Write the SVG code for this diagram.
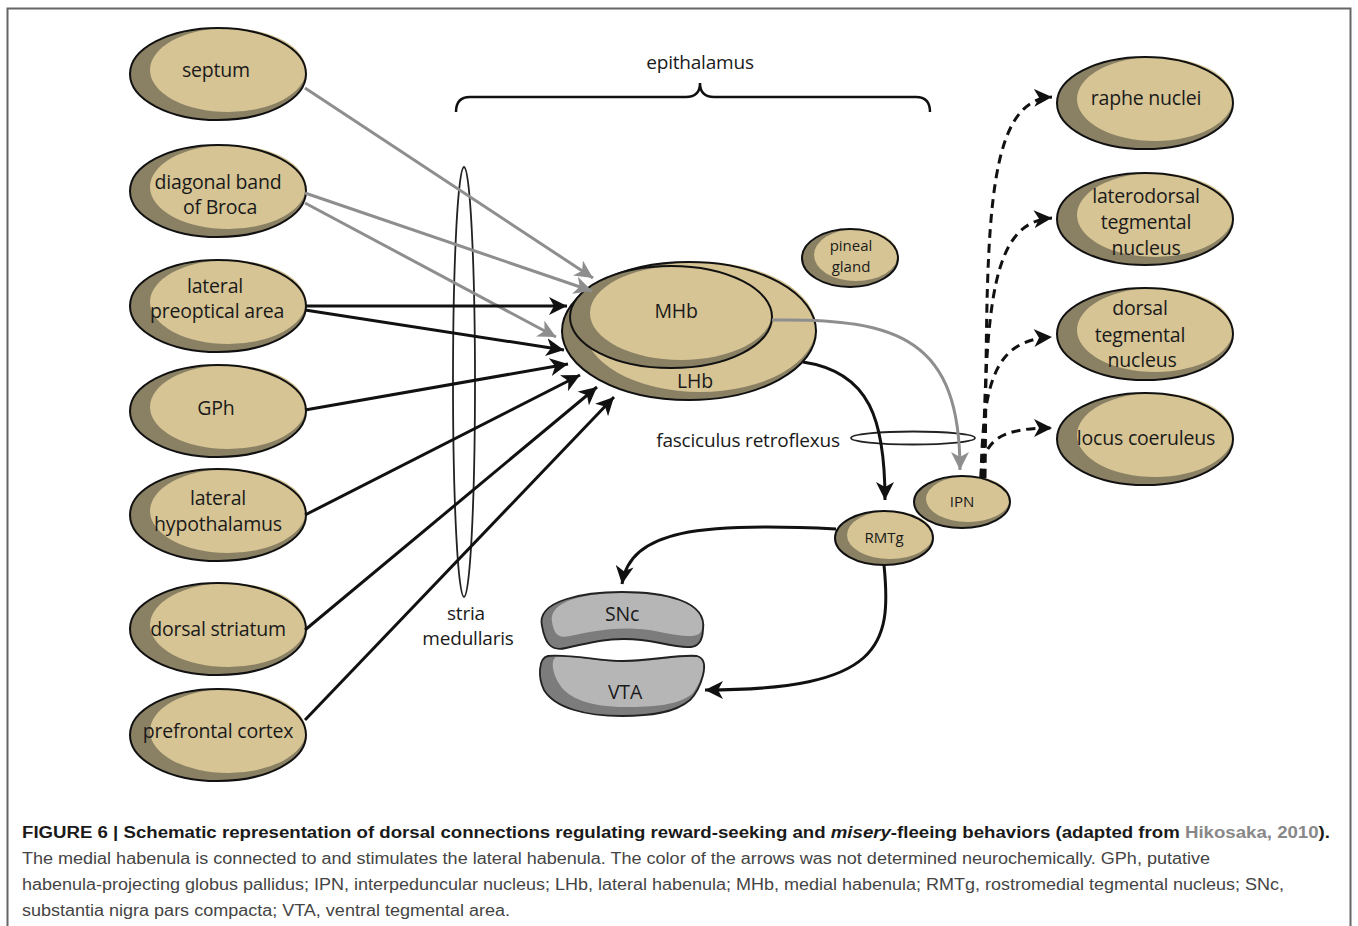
<svg xmlns="http://www.w3.org/2000/svg" width="1358" height="926" viewBox="0 0 1358 926">
<defs>
<style>
.dk{fill:#8a8064}
.lt{fill:#d6c494}
.ol{fill:none;stroke:#111;stroke-width:2}
.gdk{fill:#7c7c7c}
.glt{fill:#b6b6b6}
.lbl{font-family:"Open Sans","Liberation Sans",sans-serif;font-size:19.5px;letter-spacing:-0.2px;fill:#1a1a1a;text-anchor:middle}
.sm{font-size:15px;letter-spacing:0}
.blk{fill:none;stroke:#111;stroke-width:3}
.gry{fill:none;stroke:#8e8e8e;stroke-width:3}
.dsh{fill:none;stroke:#111;stroke-width:3;stroke-dasharray:9 6}
.cap{font-family:"Liberation Sans",Arial,sans-serif;font-size:16px}
</style>
<marker id="ab" markerUnits="userSpaceOnUse" markerWidth="20" markerHeight="18" refX="18" refY="9" orient="auto"><path d="M0,0 L18,9 L0,18 L5,9 Z" fill="#111"/></marker>
<marker id="ag" markerUnits="userSpaceOnUse" markerWidth="20" markerHeight="18" refX="18" refY="9" orient="auto"><path d="M0,0 L18,9 L0,18 L5,9 Z" fill="#8e8e8e"/></marker>
</defs>
<rect x="7.5" y="8.5" width="1343" height="940" fill="none" stroke="#666" stroke-width="2"/>

<g id="stria-medullaris">
<ellipse cx="464" cy="382" rx="11" ry="215" fill="none" stroke="#222" stroke-width="1.8"/>
<text class="lbl" x="466" y="620" style="font-size:19px">stria</text>
<text class="lbl" x="468" y="645" style="font-size:19px">medullaris</text>
</g>

<g id="fasciculus-retroflexus">
<ellipse cx="913" cy="438" rx="62" ry="6.5" fill="none" stroke="#222" stroke-width="1.8"/>
<text class="lbl" x="748" y="447" style="font-size:19px">fasciculus retroflexus</text>
</g>

<g id="epithalamus">
<path d="M456,112 Q456,97 470,97 L686,97 Q700,97 700,83 Q700,97 714,97 L916,97 Q930,97 930,112" fill="none" stroke="#111" stroke-width="2.5"/>
<text class="lbl" x="700" y="69" style="font-size:19px">epithalamus</text>
</g>

<g id="septum">
<ellipse class="dk" cx="218" cy="74" rx="88" ry="46"/>
<ellipse class="lt" cx="228" cy="70" rx="78" ry="42"/>
<ellipse class="ol" cx="218" cy="74" rx="88" ry="46"/>
<text class="lbl" x="216" y="77">septum</text>
</g>
<g id="diagonal-band">
<ellipse class="dk" cx="218" cy="191" rx="88" ry="46"/>
<ellipse class="lt" cx="228" cy="187" rx="78" ry="42"/>
<ellipse class="ol" cx="218" cy="191" rx="88" ry="46"/>
<text class="lbl" x="218" y="189">diagonal band</text>
<text class="lbl" x="220" y="214">of Broca</text>
</g>
<g id="lateral-preoptical-area">
<ellipse class="dk" cx="218" cy="306" rx="88" ry="46"/>
<ellipse class="lt" cx="228" cy="302" rx="78" ry="42"/>
<ellipse class="ol" cx="218" cy="306" rx="88" ry="46"/>
<text class="lbl" x="215" y="293">lateral</text>
<text class="lbl" x="217" y="318">preoptical area</text>
</g>
<g id="GPh">
<ellipse class="dk" cx="218" cy="411" rx="88" ry="46"/>
<ellipse class="lt" cx="228" cy="407" rx="78" ry="42"/>
<ellipse class="ol" cx="218" cy="411" rx="88" ry="46"/>
<text class="lbl" x="216" y="415">GPh</text>
</g>
<g id="lateral-hypothalamus">
<ellipse class="dk" cx="218" cy="515" rx="88" ry="46"/>
<ellipse class="lt" cx="228" cy="511" rx="78" ry="42"/>
<ellipse class="ol" cx="218" cy="515" rx="88" ry="46"/>
<text class="lbl" x="218" y="505">lateral</text>
<text class="lbl" x="218" y="531">hypothalamus</text>
</g>
<g id="dorsal-striatum">
<ellipse class="dk" cx="218" cy="629" rx="88" ry="46"/>
<ellipse class="lt" cx="228" cy="625" rx="78" ry="42"/>
<ellipse class="ol" cx="218" cy="629" rx="88" ry="46"/>
<text class="lbl" x="218" y="636">dorsal striatum</text>
</g>
<g id="prefrontal-cortex">
<ellipse class="dk" cx="218" cy="735" rx="88" ry="46"/>
<ellipse class="lt" cx="228" cy="731" rx="78" ry="42"/>
<ellipse class="ol" cx="218" cy="735" rx="88" ry="46"/>
<text class="lbl" x="218" y="738">prefrontal cortex</text>
</g>

<g id="LHb">
<ellipse class="dk" cx="689" cy="331" rx="127" ry="69"/>
<ellipse class="lt" cx="700" cy="327" rx="116" ry="65"/>
<ellipse class="ol" cx="689" cy="331" rx="127" ry="69"/>
<text class="lbl" x="695" y="388">LHb</text>
</g>
<g id="MHb">
<ellipse class="dk" cx="671" cy="317" rx="101" ry="51"/>
<ellipse class="lt" cx="681" cy="313" rx="91" ry="47"/>
<ellipse class="ol" cx="671" cy="317" rx="101" ry="51"/>
<text class="lbl" x="676" y="318">MHb</text>
</g>

<g id="pineal-gland">
<ellipse class="dk" cx="850" cy="258" rx="48" ry="29"/>
<ellipse class="lt" cx="856" cy="255" rx="42" ry="26"/>
<ellipse class="ol" cx="850" cy="258" rx="48" ry="29"/>
<text class="lbl sm" x="851" y="251">pineal</text>
<text class="lbl sm" x="851" y="272">gland</text>
</g>

<g id="IPN">
<ellipse class="dk" cx="962" cy="502" rx="48" ry="26"/>
<ellipse class="lt" cx="968" cy="499" rx="42" ry="23"/>
<ellipse class="ol" cx="962" cy="502" rx="48" ry="26"/>
<text class="lbl sm" x="962" y="507">IPN</text>
</g>
<g id="RMTg">
<ellipse class="dk" cx="884" cy="538" rx="49" ry="27"/>
<ellipse class="lt" cx="890" cy="535" rx="43" ry="24"/>
<ellipse class="ol" cx="884" cy="538" rx="49" ry="27"/>
<text class="lbl sm" x="884" y="543">RMTg</text>
</g>

<g id="SNc">
<path class="gdk" d="M542,626 C 536,600 585,592 622,592 C 662,592 708,600 703,630 C 702,650 692,650 660,643 C 622,635 600,640 566,648 C 550,652 545,642 542,626 Z"/>
<path class="glt" d="M552,622 C 548,600 588,593 622,593 C 660,593 706,600 702,628 C 701,638 690,638 660,632 C 625,625 600,630 570,636 C 556,639 554,632 552,622 Z"/>
<path d="M542,626 C 536,600 585,592 622,592 C 662,592 708,600 703,630 C 702,650 692,650 660,643 C 622,635 600,640 566,648 C 550,652 545,642 542,626 Z" fill="none" stroke="#222" stroke-width="1.8"/>
<text class="lbl" x="622" y="621">SNc</text>
</g>
<g id="VTA">
<path class="gdk" d="M548,656 C 570,654 600,661 622,661 C 650,661 680,654 697,656 C 712,660 700,690 690,700 C 675,713 650,716 622,716 C 585,716 555,708 544,690 C 538,678 538,658 548,656 Z"/>
<path class="glt" d="M556,657 C 575,655 600,662 622,662 C 650,662 680,655 697,657 C 710,661 700,685 692,694 C 678,705 655,707 625,707 C 590,707 568,698 560,685 C 553,675 550,660 556,657 Z"/>
<path d="M548,656 C 570,654 600,661 622,661 C 650,661 680,654 697,656 C 712,660 700,690 690,700 C 675,713 650,716 622,716 C 585,716 555,708 544,690 C 538,678 538,658 548,656 Z" fill="none" stroke="#222" stroke-width="1.8"/>
<text class="lbl" x="625" y="699">VTA</text>
</g>

<g id="raphe-nuclei">
<ellipse class="dk" cx="1145" cy="103" rx="88" ry="46"/>
<ellipse class="lt" cx="1155" cy="99" rx="78" ry="42"/>
<ellipse class="ol" cx="1145" cy="103" rx="88" ry="46"/>
<text class="lbl" x="1146" y="105">raphe nuclei</text>
</g>
<g id="laterodorsal-tegmental-nucleus">
<ellipse class="dk" cx="1145" cy="219" rx="88" ry="46"/>
<ellipse class="lt" cx="1155" cy="215" rx="78" ry="42"/>
<ellipse class="ol" cx="1145" cy="219" rx="88" ry="46"/>
<text class="lbl" x="1146" y="203">laterodorsal</text>
<text class="lbl" x="1146" y="229">tegmental</text>
<text class="lbl" x="1146" y="255">nucleus</text>
</g>
<g id="dorsal-tegmental-nucleus">
<ellipse class="dk" cx="1145" cy="334" rx="88" ry="46"/>
<ellipse class="lt" cx="1155" cy="330" rx="78" ry="42"/>
<ellipse class="ol" cx="1145" cy="334" rx="88" ry="46"/>
<text class="lbl" x="1140" y="315">dorsal</text>
<text class="lbl" x="1140" y="342">tegmental</text>
<text class="lbl" x="1142" y="367">nucleus</text>
</g>
<g id="locus-coeruleus">
<ellipse class="dk" cx="1145" cy="439" rx="88" ry="46"/>
<ellipse class="lt" cx="1155" cy="435" rx="78" ry="42"/>
<ellipse class="ol" cx="1145" cy="439" rx="88" ry="46"/>
<text class="lbl" x="1146" y="445">locus coeruleus</text>
</g>

<g id="connectors">
<path class="gry" d="M305,88 L593,278" marker-end="url(#ag)"/>
<path class="gry" d="M305,193 L592,291" marker-end="url(#ag)"/>
<path class="gry" d="M305,203 L556,337" marker-end="url(#ag)"/>
<path class="blk" d="M305,306 L567,306" marker-end="url(#ab)"/>
<path class="blk" d="M305,310 L564,350" marker-end="url(#ab)"/>
<path class="blk" d="M305,410 L568,364" marker-end="url(#ab)"/>
<path class="blk" d="M305,515 L580,375" marker-end="url(#ab)"/>
<path class="blk" d="M305,630 L597,387" marker-end="url(#ab)"/>
<path class="blk" d="M305,720 L614,397" marker-end="url(#ab)"/>
<path class="gry" d="M772,320 C 900,318 960,340 960,470" marker-end="url(#ag)"/>
<path class="blk" d="M803,362 C 870,372 885,420 885,500" marker-end="url(#ab)"/>
<path class="blk" d="M836,529 C 700,522 630,530 622,584" marker-end="url(#ab)"/>
<path class="blk" d="M884,565 C 892,645 882,690 705,690" marker-end="url(#ab)"/>
<path class="dsh" d="M981,478 C 982,440 1000,428 1052,428" marker-end="url(#ab)"/>
<path class="dsh" d="M981,478 C 983,380 995,340 1052,337" marker-end="url(#ab)"/>
<path class="dsh" d="M983,478 C 986,300 992,222 1052,218" marker-end="url(#ab)"/>
<path class="dsh" d="M985,478 C 988,250 980,100 1052,97" marker-end="url(#ab)"/>
</g>

<g id="caption">
<text class="cap" x="22" y="838" font-weight="bold" fill="#1a1a1a" textLength="1308" lengthAdjust="spacingAndGlyphs">FIGURE 6 | Schematic representation of dorsal connections regulating reward-seeking and <tspan font-style="italic">misery</tspan>-fleeing behaviors (adapted from <tspan fill="#888">Hikosaka, 2010</tspan>).</text>
<text class="cap" x="22" y="864" fill="#444" textLength="1188" lengthAdjust="spacingAndGlyphs">The medial habenula is connected to and stimulates the lateral habenula. The color of the arrows was not determined neurochemically. GPh, putative</text>
<text class="cap" x="22" y="890" fill="#444" textLength="1262" lengthAdjust="spacingAndGlyphs">habenula-projecting globus pallidus; IPN, interpeduncular nucleus; LHb, lateral habenula; MHb, medial habenula; RMTg, rostromedial tegmental nucleus; SNc,</text>
<text class="cap" x="22" y="916" fill="#444" textLength="488" lengthAdjust="spacingAndGlyphs">substantia nigra pars compacta; VTA, ventral tegmental area.</text>
</g>
</svg>
